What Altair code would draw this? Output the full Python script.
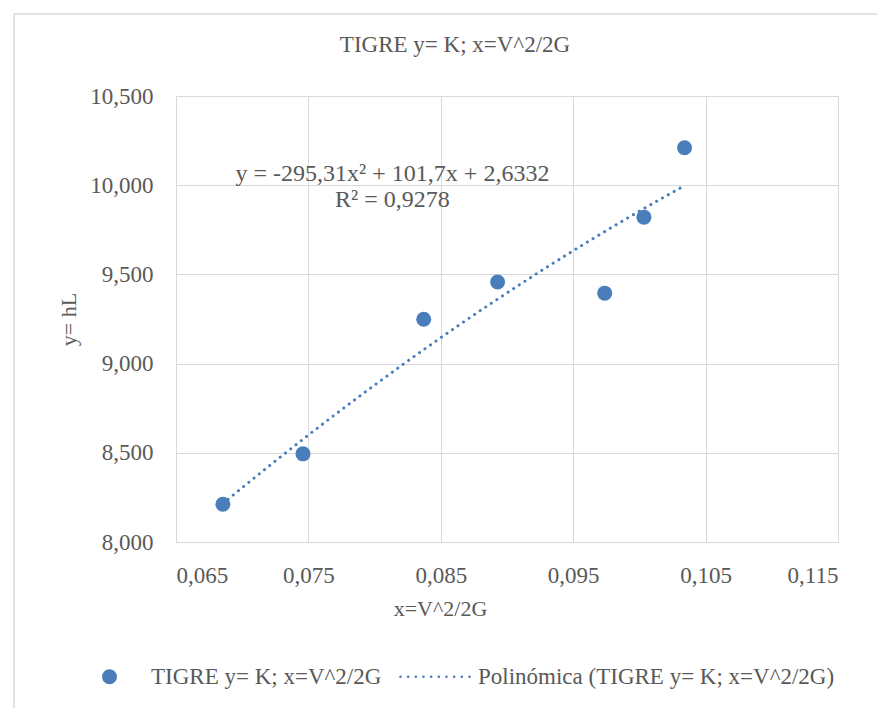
import altair as alt
import pandas as pd

# data
x_vals = [0.06854, 0.07459, 0.08371, 0.08929, 0.09738, 0.10034, 0.10341]
y_vals = [8.212, 8.494, 9.249, 9.457, 9.395, 9.821, 10.210]
x_ticks = [0.065, 0.075, 0.085, 0.095, 0.105, 0.115]
y_ticks = [8.0, 8.5, 9.0, 9.5, 10.0, 10.5]
series_name = "TIGRE y= K; x=V^2/2G"
trend_name = "Polinómica (TIGRE y= K; x=V^2/2G)"
equation_lines = ["y = -295,31x² + 101,7x + 2,6332", "R² = 0,9278"]
equation_pos = [0.08135, 10.065]

BLUE = "#4A7EBB"
TEXT = "#595959"
GRID = "#D9D9D9"
FONT = "Liberation Serif"

df = pd.DataFrame({"x": x_vals, "y": y_vals, "s": [series_name] * len(x_vals)})

# dotted-line legend symbol (unit coords; r = sqrt(size)/2)
dot_r = 0.17
centers = [-4.8 + i * 1.022 for i in range(10)]
dots_path = " ".join(
    f"M{c - dot_r:.3f},0 a{dot_r},{dot_r} 0 1,0 {2*dot_r},0 a{dot_r},{dot_r} 0 1,0 {-2*dot_r},0 Z"
    for c in centers
)

lbl = "replace(format(datum.value, '.3f'), '.', ',')"

xscale = alt.Scale(domain=[x_ticks[0], x_ticks[-1]], nice=False, zero=False)
yscale = alt.Scale(domain=[y_ticks[0], y_ticks[-1]], nice=False, zero=False)

xaxis = alt.Axis(values=x_ticks, labelExpr=lbl, title="x=V^2/2G", grid=True,
                 ticks=False, tickSize=0, domain=False, labelPadding=22,
                 titleX=264, titleY=66, titleBaseline="middle", titleAlign="center")
yaxis = alt.Axis(values=y_ticks, labelExpr=lbl, title="y= hL", grid=True,
                 ticks=False, tickSize=0, domain=False, labelPadding=23,
                 titleX=-108, titleY=223, titleBaseline="middle", titleAlign="center")

points = alt.Chart(df).mark_point(filled=True, size=225, opacity=1, color=BLUE, strokeWidth=0).encode(
    x=alt.X("x:Q", scale=xscale, axis=xaxis),
    y=alt.Y("y:Q", scale=yscale, axis=yaxis),
    shape=alt.Shape("s:N",
                    scale=alt.Scale(domain=[series_name, trend_name], range=["circle", dots_path]),
                    legend=alt.Legend(orient="none", direction="horizontal", columns=2,
                                      legendX=-78, legendY=569, title=None,
                                      symbolSize=225, symbolFillColor=BLUE,
                                      symbolStrokeWidth=0, symbolOpacity=1,
                                      labelOffset=30, columnPadding=17,
                                      labelFont=FONT, labelFontSize=23, labelColor=TEXT,
                                      labelLimit=600, padding=0)),
)

trend = alt.Chart(df).transform_regression("x", "y", method="poly", order=2).mark_line(
    color=BLUE, strokeWidth=3, strokeDash=[0.1, 6.6], strokeCap="round"
).encode(x=alt.X("x:Q", scale=xscale), y=alt.Y("y:Q", scale=yscale))

eq = alt.Chart(pd.DataFrame({"x": [equation_pos[0]], "y": [equation_pos[1]],
                             "t": [equation_lines]})).mark_text(
    font=FONT, fontSize=24, color=TEXT, align="center", baseline="middle", lineHeight=26
).encode(x=alt.X("x:Q", scale=xscale), y=alt.Y("y:Q", scale=yscale), text="t")

# chart-area frame (left and top edges visible)
frame_df = pd.DataFrame({"k": [0]})
frame_left = alt.Chart(frame_df).mark_rule(color=GRID, strokeWidth=1.5).encode(
    x=alt.value(-162), y=alt.value(-82), y2=alt.value(620))
frame_top = alt.Chart(frame_df).mark_rule(color=GRID, strokeWidth=1.5).encode(
    x=alt.value(-162), x2=alt.value(710), y=alt.value(-82))

chart = alt.layer(frame_left, frame_top, trend, points, eq).properties(
    width=662, height=446,
    background="white",
    title=alt.Title(series_name, font=FONT, fontSize=23, fontWeight="normal", color=TEXT,
                    anchor="middle", frame="group", dx=-52, dy=44, offset=0),
    padding={"left": 176, "top": 96, "right": 39, "bottom": 166},
    autosize=alt.AutoSizeParams(type="none"),
).configure_view(stroke=GRID, strokeWidth=1).configure_axis(
    gridColor=GRID, gridWidth=1, labelFont=FONT, labelFontSize=23, labelColor=TEXT,
    titleFont=FONT, titleFontSize=22, titleColor=TEXT, titleFontWeight="normal"
)

chart.save("out.html", embed_options={"renderer": "svg", "actions": False})
